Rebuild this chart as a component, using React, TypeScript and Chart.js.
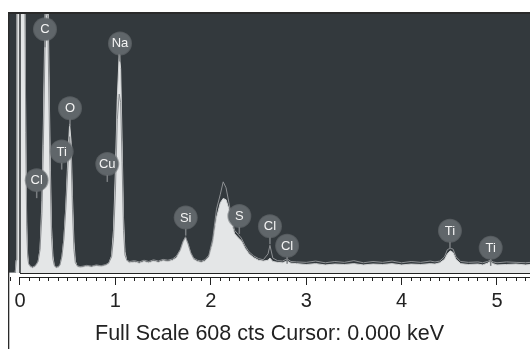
import React, { useEffect, useRef } from 'react';
import { Chart, registerables } from 'chart.js';

Chart.register(...registerables);

// Energy grid (keV)
const energies = [
  -0.115, -0.05, -0.04, -0.032, 0.05, 0.06, 0.07, 0.08, 0.09, 0.11, 0.13, 0.15, 0.17, 0.19,
  0.21, 0.23, 0.245, 0.26, 0.27, 0.29, 0.3, 0.315, 0.33, 0.345, 0.36, 0.38, 0.4, 0.42, 0.44,
  0.46, 0.48, 0.5, 0.52, 0.535, 0.55, 0.565, 0.58, 0.6, 0.63, 0.66, 0.7, 0.75, 0.8, 0.85, 0.9,
  0.93, 0.96, 0.98, 1.0, 1.02, 1.04, 1.055, 1.07, 1.085, 1.1, 1.12, 1.15, 1.2, 1.25, 1.3, 1.35,
  1.4, 1.45, 1.5, 1.55, 1.6, 1.64, 1.68, 1.71, 1.735, 1.76, 1.79, 1.82, 1.86, 1.9, 1.94, 1.98,
  2.02, 2.06, 2.1, 2.13, 2.16, 2.19, 2.22, 2.25, 2.29, 2.32, 2.36, 2.4, 2.45, 2.5, 2.55, 2.6,
  2.62, 2.65, 2.7, 2.75, 2.8, 2.84, 2.9, 3.0, 3.1, 3.2, 3.3, 3.4, 3.5, 3.6, 3.7, 3.8, 3.9, 4.0,
  4.1, 4.2, 4.3, 4.35, 4.4, 4.45, 4.48, 4.51, 4.54, 4.57, 4.62, 4.7, 4.8, 4.85, 4.9, 4.93, 4.96,
  5.0, 5.1, 5.2, 5.3, 5.35,
];

// Filled spectrum (counts)
const fillCounts = [
  0, 0, 30, 700, 700, 350, 120, 45, 20, 14, 12, 14, 18, 26,
  55, 170, 350, 570, 700, 700, 540, 290, 110, 40, 16, 12, 13, 18, 38,
  80, 155, 260, 350, 310, 180, 75, 28, 15, 13, 14, 16, 14, 17, 15, 18,
  22, 40, 100, 240, 410, 515, 480, 310, 130, 50, 28, 24, 26, 23, 27, 24,
  28, 25, 29, 27, 30, 36, 52, 72, 82, 68, 45, 32, 27, 25, 28, 38,
  70, 130, 165, 175, 172, 150, 115, 92, 82, 76, 58, 45, 36, 30, 28, 30,
  35, 27, 25, 24, 28, 23, 22, 20, 22, 19, 21, 20, 22, 19, 21, 20, 22, 19,
  21, 20, 22, 21, 24, 32, 45, 52, 48, 32, 22, 20, 21, 19, 23, 27, 22,
  19, 20, 21, 19, 20,
];

// Overlay spectrum outline (counts)
const lineCounts = [
  0, 0, 30, 700, 700, 330, 110, 40, 22, 16, 14, 16, 20, 28,
  55, 140, 300, 500, 620, 600, 460, 240, 85, 32, 18, 14, 15, 20, 40,
  80, 150, 240, 320, 280, 150, 55, 24, 17, 15, 16, 18, 16, 19, 17, 20,
  24, 38, 80, 190, 360, 420, 400, 260, 100, 42, 30, 27, 29, 26, 30, 27,
  31, 28, 32, 30, 33, 40, 55, 75, 85, 70, 48, 35, 30, 28, 31, 42,
  80, 150, 185, 214, 200, 165, 125, 100, 90, 82, 64, 50, 40, 34, 31, 45,
  65, 35, 29, 28, 33, 27, 26, 25, 28, 24, 27, 25, 29, 24, 27, 25, 28, 24,
  27, 25, 28, 26, 28, 38, 55, 58, 56, 38, 27, 25, 26, 24, 27, 30, 26,
  24, 26, 25, 24, 25,
];

// Peak identification markers
const peakNames = ['C', 'Na', 'O', 'Ti', 'Cl', 'Cu', 'Si', 'S', 'Cl', 'Cl', 'Ti', 'Ti'];
const peakEnergies = [0.262, 1.048, 0.524, 0.437, 0.175, 0.915, 1.737, 2.299, 2.62, 2.80, 4.507, 4.934];
const peakMarkerCounts = [572, 539, 387, 285, 218, 256, 130, 134, 110, 64, 99, 59];

const fullScale = 608;
const cursorEnergy = 0;
const axisMin = -0.1153;
const axisMax = 5.346;
const footerText = `Full Scale ${fullScale} cts Cursor: ${cursorEnergy.toFixed(3)} keV`;

const FONT = '"Liberation Sans", Arial, Helvetica, sans-serif';

const isMajor = (v: number) => Math.abs(v - Math.round(v)) < 1e-6;

const framePlugin = {
  id: 'frame',
  beforeDraw(chart: any) {
    const { ctx, chartArea, width, height } = chart;
    ctx.save();
    ctx.fillStyle = '#ffffff';
    ctx.fillRect(0, 0, width, height);
    ctx.fillStyle = '#33393d';
    ctx.fillRect(chartArea.left, chartArea.top, chartArea.right - chartArea.left, chartArea.bottom - chartArea.top);
    ctx.restore();
  },
  afterDatasetsDraw(chart: any) {
    const { ctx } = chart;
    const xs = chart.scales.x;
    const ys = chart.scales.y;
    ctx.save();
    for (let i = 0; i < peakNames.length; i++) {
      const px = xs.getPixelForValue(peakEnergies[i]);
      const py = ys.getPixelForValue(peakMarkerCounts[i]);
      const r = 11;
      ctx.strokeStyle = '#7a7e81';
      ctx.lineWidth = 1.5;
      ctx.beginPath();
      ctx.moveTo(px, py + r);
      ctx.lineTo(px, py + r + 7);
      ctx.stroke();
      ctx.beginPath();
      ctx.arc(px, py, r + 1, 0, Math.PI * 2);
      ctx.fillStyle = 'rgba(110,115,118,0.6)';
      ctx.fill();
      ctx.beginPath();
      ctx.arc(px, py, r, 0, Math.PI * 2);
      ctx.fillStyle = '#60666a';
      ctx.fill();
      ctx.fillStyle = '#f4f4f4';
      ctx.font = `13px ${FONT}`;
      ctx.textAlign = 'center';
      ctx.textBaseline = 'middle';
      ctx.fillText(peakNames[i], px, py + 0.5);
    }
    ctx.restore();
  },
  afterDraw(chart: any) {
    const { ctx, chartArea, height } = chart;
    const xs = chart.scales.x;
    const x0 = xs.getPixelForValue(0);
    ctx.save();
    ctx.fillStyle = '#2a2a2a';
    ctx.fillRect(chartArea.left - 1, chartArea.top - 2, chartArea.right - chartArea.left + 1, 2);
    ctx.fillRect(chartArea.left - 1, chartArea.top - 2, 1.3, height - chartArea.top + 2);
    ctx.strokeStyle = '#222';
    ctx.lineWidth = 1;
    ctx.beginPath();
    ctx.moveTo(x0, xs.top + 0.5);
    ctx.lineTo(chartArea.right, xs.top + 0.5);
    ctx.moveTo(x0, xs.top + 4.5);
    ctx.lineTo(chartArea.right, xs.top + 4.5);
    ctx.stroke();
    ctx.restore();
  },
};

export default function App() {
  const ref = useRef<HTMLCanvasElement | null>(null);

  useEffect(() => {
    if (!ref.current) return;
    const chart = new Chart(ref.current, {
      type: 'line',
      data: {
        datasets: [
          {
            label: 'cursor',
            data: [
              { x: cursorEnergy, y: 0 },
              { x: cursorEnergy, y: fullScale },
            ],
            borderColor: '#2a2e31',
            borderWidth: 1.5,
            pointRadius: 0,
            fill: false,
            order: 0,
          },
          {
            label: 'overlay',
            data: energies.map((e, i) => ({ x: e, y: lineCounts[i] })),
            borderColor: '#8d9093',
            borderWidth: 1,
            pointRadius: 0,
            fill: false,
            tension: 0,
            order: 1,
          },
          {
            label: 'spectrum',
            data: energies.map((e, i) => ({ x: e, y: fillCounts[i] })),
            borderColor: '#d0d2d3',
            backgroundColor: '#e4e6e7',
            borderWidth: 1,
            pointRadius: 0,
            fill: 'origin',
            tension: 0,
            order: 2,
          },
        ],
      },
      options: {
        responsive: false,
        devicePixelRatio: 1,
        animation: false,
        events: [],
        clip: 0,
        layout: { padding: { left: 9, top: 14, right: 0, bottom: 0 } },
        plugins: { legend: { display: false }, tooltip: { enabled: false }, title: { display: false } },
        scales: {
          y: {
            type: 'linear',
            min: 0,
            max: fullScale,
            display: false,
          },
          x: {
            type: 'linear',
            min: axisMin,
            max: axisMax,
            afterFit: (s: any) => {
              s.height = 76;
            },
            border: { display: false },
            grid: {
              drawOnChartArea: false,
              drawTicks: true,
              tickLength: 12,
              tickWidth: 1,
              tickColor: '#222',
              tickBorderDash: (ctx: any) => (ctx.tick && isMajor(ctx.tick.value) ? [0, 4, 8, 100] : [0, 4, 4, 100]),
            },
            ticks: {
              stepSize: 0.1,
              includeBounds: false,
              autoSkip: false,
              maxRotation: 0,
              minRotation: 0,
              padding: 4,
              color: '#222',
              font: { family: FONT, size: 20 },
              callback: (v: any) => (isMajor(Number(v)) ? String(Math.round(Number(v))) : ''),
            },
            title: {
              display: true,
              text: footerText,
              color: '#222',
              font: { family: FONT, size: 21.5 },
              padding: { top: 0, bottom: 2 },
            },
          },
        },
      },
      plugins: [framePlugin],
    } as any);
    return () => chart.destroy();
  }, []);

  return (
    <div style={{ position: 'absolute', left: 0, top: 0, width: 530, height: 349 }}>
      <canvas ref={ref} width={530} height={349} style={{ width: 530, height: 349 }} />
    </div>
  );
}
